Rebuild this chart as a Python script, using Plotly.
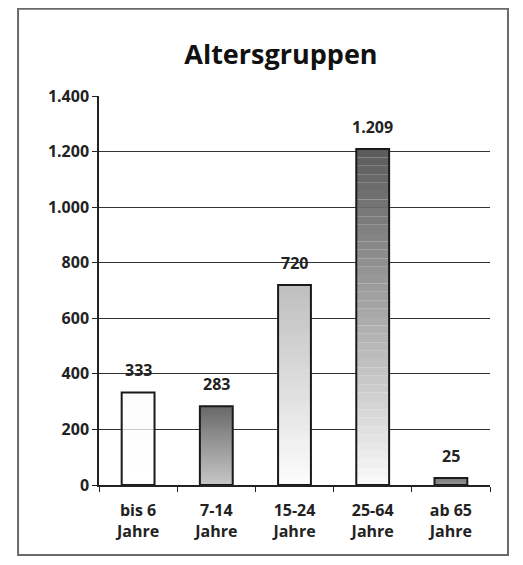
import plotly.graph_objects as go

categories = ["bis 6<br>Jahre", "7-14<br>Jahre", "15-24<br>Jahre", "25-64<br>Jahre", "ab 65<br>Jahre"]
values = [333, 283, 720, 1209, 25]
y_ticks = [0, 200, 400, 600, 800, 1000, 1200, 1400]

# style: gradient (top grey level, bottom grey level) per bar
top_grey = [252, 105, 190, 90, 125]
bottom_grey = [255, 200, 253, 250, 150]
N = 40

fig = go.Figure()
for i in range(N):
    frac = (i + 0.5) / N  # 0 bottom -> 1 top
    cols = []
    for t, b in zip(top_grey, bottom_grey):
        g = int(round(b + (t - b) * frac))
        cols.append(f"rgb({g},{g},{g})")
    fig.add_trace(go.Bar(
        x=categories,
        y=[v / N for v in values],
        base=[v * i / N for v in values],
        marker=dict(color=cols, line=dict(width=0)),
        width=0.42, hoverinfo="skip", showlegend=False,
    ))

fig.add_trace(go.Bar(
    x=categories, y=values,
    marker=dict(color="rgba(0,0,0,0)", line=dict(color="#1a1a1a", width=2)),
    width=0.42, showlegend=False,
))

annotations = [
    dict(x=c, y=v, xref="x", yref="y", text=f"{v:,}".replace(",", "."),
         showarrow=False, yanchor="bottom", yshift=9,
         font=dict(family="Open Sans", size=16, color="#222", weight="bold"))
    for c, v in zip(categories, values)
]

fig.update_layout(
    width=515, height=557,
    barmode="overlay",
    separators=",.",
    paper_bgcolor="white", plot_bgcolor="white",
    margin=dict(l=91, r=33, t=88, b=80),
    title=dict(text="<b>Altersgruppen</b>", x=0.530, xanchor="center", y=0.916, yanchor="middle",
               font=dict(family="Open Sans", size=27, color="#111")),
    font=dict(family="Open Sans", color="#222"),
    showlegend=False,
    annotations=annotations,
    shapes=[dict(type="rect", xref="paper", yref="paper",
                 x0=-0.207, x1=1.046, y0=-0.18, y1=1.224,
                 line=dict(color="#6a6a6a", width=2), layer="below")],
)
fig.update_yaxes(
    range=[0, 1400], tickvals=y_ticks, tickformat=",d",
    showgrid=True, gridcolor="#333", gridwidth=1,
    showline=True, linecolor="#222", linewidth=1.5,
    ticks="outside", ticklen=5, tickcolor="#222",
    tickfont=dict(family="Open Sans", size=16, color="#222", weight="bold"),
    zeroline=False,
)
fig.update_xaxes(
    showline=True, linecolor="#222", linewidth=1.5,
    ticks="outside", tickson="boundaries", ticklen=5, tickcolor="#222",
    tickfont=dict(family="Open Sans", size=16, color="#222", weight="bold"),
    ticklabelstandoff=10,
)
fig.write_html("out.html")
